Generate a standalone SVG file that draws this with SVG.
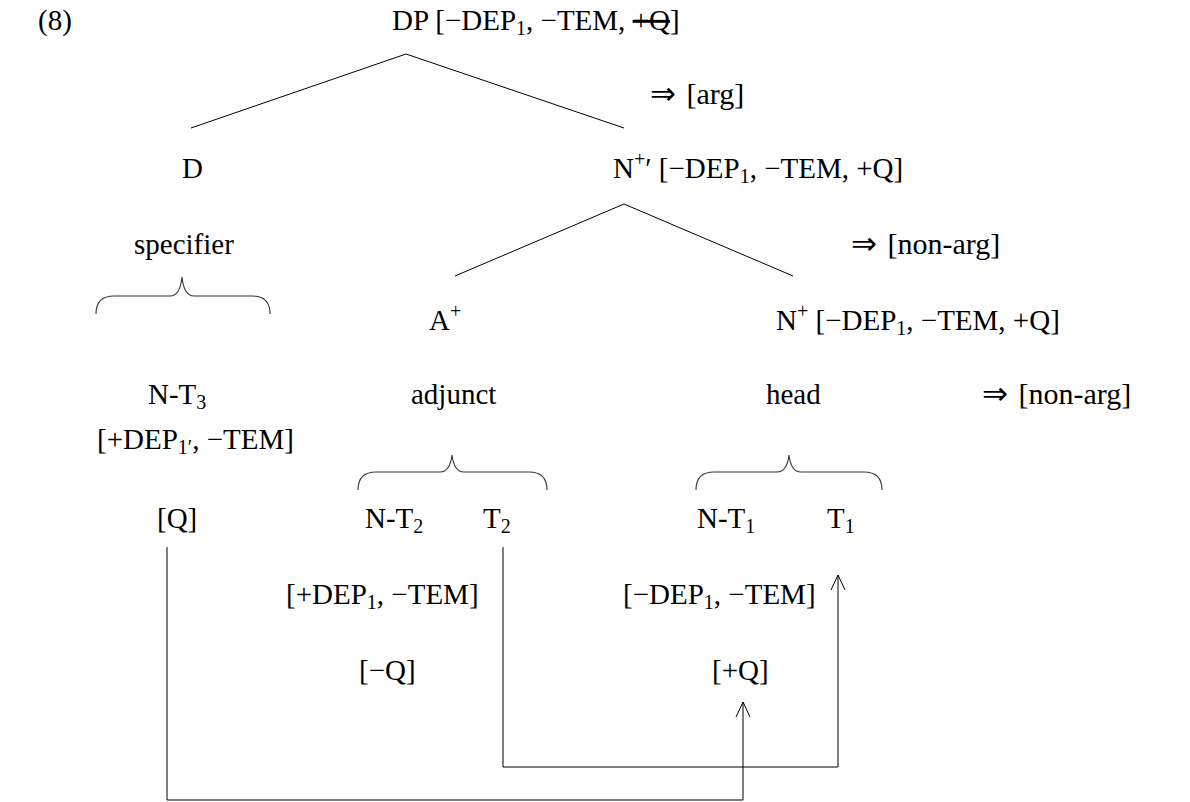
<svg xmlns="http://www.w3.org/2000/svg" width="1190" height="802" viewBox="0 0 1190 802">
<defs>
<style>
text{font-family:"Liberation Serif","Times New Roman",serif;font-size:29px;fill:#000}
.sub{font-size:20px}
.sup{font-size:20px}
.lbl{font-size:30px;word-spacing:3px}
.arr{font-family:"DejaVu Sans",sans-serif;font-size:31px}
.ln{fill:none;stroke:#000;stroke-width:1}
.br{fill:none;stroke:#333;stroke-width:1.1}
.strike{text-decoration:line-through}
</style>
</defs>
<rect width="1190" height="802" fill="#fff"/>

<g id="label-8"><text x="38" y="30">(8)</text></g>

<g id="node-DP"><text x="392" y="30">DP [−DEP<tspan class="sub" dy="5">1</tspan><tspan dy="-5">, −TEM, </tspan><tspan class="strike">+Q</tspan>]</text></g>
<g id="label-arg"><text class="lbl" x="650" y="104"><tspan class="arr">⇒</tspan> [arg]</text></g>

<g id="node-D"><text x="182" y="178">D</text></g>
<g id="node-Nbar"><text x="613" y="178">N<tspan class="sup" dy="-12">+</tspan><tspan dy="12">′ [−DEP</tspan><tspan class="sub" dy="5">1</tspan><tspan dy="-5">, −TEM, +Q]</tspan></text></g>

<g id="node-specifier"><text x="134" y="254">specifier</text></g>
<g id="label-nonarg1"><text class="lbl" x="851" y="254"><tspan class="arr">⇒</tspan> [non-arg]</text></g>

<g id="node-A"><text x="429" y="330">A<tspan class="sup" dy="-12">+</tspan></text></g>
<g id="node-N"><text x="776" y="330">N<tspan class="sup" dy="-12">+</tspan><tspan dy="12"> [−DEP</tspan><tspan class="sub" dy="5">1</tspan><tspan dy="-5">, −TEM, +Q]</tspan></text></g>

<g id="node-NT3"><text x="148" y="404">N-T<tspan class="sub" dy="5">3</tspan></text>
<text x="97" y="449">[+DEP<tspan class="sub" dy="5">1′</tspan><tspan dy="-5">, −TEM]</tspan></text>
<text x="157" y="528">[Q]</text></g>

<g id="node-adjunct"><text x="411" y="404">adjunct</text></g>
<g id="node-head"><text x="766" y="404">head</text></g>
<g id="label-nonarg2"><text class="lbl" x="982" y="404"><tspan class="arr">⇒</tspan> [non-arg]</text></g>

<g id="node-NT2"><text x="365" y="528">N-T<tspan class="sub" dy="5">2</tspan></text>
<text x="286" y="604">[+DEP<tspan class="sub" dy="5">1</tspan><tspan dy="-5">, −TEM]</tspan></text>
<text x="359" y="680">[−Q]</text></g>
<g id="node-T2"><text x="483" y="528">T<tspan class="sub" dy="5">2</tspan></text></g>

<g id="node-NT1"><text x="697" y="528">N-T<tspan class="sub" dy="5">1</tspan></text>
<text x="623" y="604">[−DEP<tspan class="sub" dy="5">1</tspan><tspan dy="-5">, −TEM]</tspan></text>
<text x="712" y="680">[+Q]</text></g>
<g id="node-T1"><text x="827" y="528">T<tspan class="sub" dy="5">1</tspan></text></g>

<g id="connectors">
<path class="ln" d="M191,128 L406,54 L624,128"/>
<path class="ln" d="M455,276 L624,204 L793,276"/>
<path class="br" d="M96,314 Q96,296 114,296 H170 Q180,296 182,277 Q184,296 194,296 H252 Q270,296 270,314"/>
<path class="br" d="M358,490 Q358,472 376,472 H440 Q450,472 452,455 Q454,472 464,472 H529 Q547,472 547,490"/>
<path class="br" d="M696,490 Q696,472 714,472 H777 Q787,472 789,455 Q791,472 801,472 H864 Q882,472 882,490"/>
<path class="ln" d="M167,547 V800 H743 V702"/>
<path class="ln" d="M736,717 L743,702 L750,717"/>
<path class="ln" d="M503,547 V767 H838 V575"/>
<path class="ln" d="M831,590 L838,575 L845,590"/>
</g>
</svg>
